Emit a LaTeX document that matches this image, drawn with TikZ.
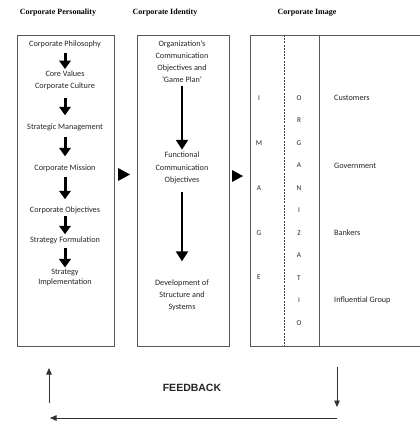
\documentclass[tikz,border=0pt]{standalone}
\usepackage{fontspec}
\setmainfont{Liberation Serif}
\newfontfamily\calib{Carlito}
\newfontfamily\arialf{Liberation Sans}
\usetikzlibrary{arrows.meta}
\begin{document}
\begin{tikzpicture}[x=1pt,y=-1pt,
  title/.style={font=\fontsize{8}{9}\selectfont\bfseries, inner sep=0pt},
  txt/.style={font=\calib\fontsize{8.2}{11.5}\selectfont, align=center, inner sep=1pt, text=black!85},
  lett/.style={font=\calib\fontsize{7.3}{8}\selectfont, inner sep=0pt, text=black!85},
  boxline/.style={draw=black!65, line width=0.9pt},
  bigarrow/.style={line width=3pt, -{Triangle[width=11.5pt,length=8.5pt]}},
  longarrow/.style={line width=2.4pt, -{Triangle[width=12pt,length=10pt]}},
  fbarrow/.style={draw=black!80, line width=0.8pt, -{Triangle[width=5.5pt,length=6.5pt]}}
]
\useasboundingbox (0,0) rectangle (420,423);
\fill[white] (0,0) rectangle (420,423);

% titles
\node[title] (t1) at (58,13) {Corporate Personality};
\node[title] (t2) at (165,13) {Corporate Identity};
\node[title] (t3) at (307,13) {Corporate Image};

% boxes
\node[boxline, anchor=north west, minimum width=97pt, minimum height=311pt, inner sep=0pt] (box1) at (17,35) {};
\node[boxline, anchor=north west, minimum width=92pt, minimum height=311pt, inner sep=0pt] (box2) at (137,35) {};
\coordinate (b3tl) at (250,35);
\coordinate (b3bl) at (250,346);
\coordinate (b3tr) at (420,35);
\coordinate (b3br) at (420,346);
\coordinate (dtop) at (284,35);
\coordinate (dbot) at (284,346);
\coordinate (stop) at (319,35);
\coordinate (sbot) at (319,346);
\draw[boxline] (b3tr) -- (b3tl) -- (b3bl) -- (b3br);
\draw[boxline] (stop) -- (sbot);
\draw[draw=black!75, line width=0.7pt, dash pattern=on 2pt off 1.2pt] (dtop) -- (dbot);

% box 1 contents
\node[txt] (p1) at (65,44) {Corporate Philosophy};
\node[txt] (p2) at (65,80.5) {Core Values\\Corporate Culture};
\node[txt] (p3) at (65,127) {Strategic Management};
\node[txt] (p4) at (65,168) {Corporate Mission};
\node[txt] (p5) at (65,210) {Corporate Objectives};
\node[txt] (p6) at (65,240) {Strategy Formulation};
\node[txt, font=\calib\fontsize{8.2}{10}\selectfont] (p7) at (65,277) {Strategy\\Implementation};
\draw[bigarrow, shorten <=4pt, shorten >=1pt] (p1.south) -- (p2.north);
\draw[bigarrow, shorten <=7pt, shorten >=7pt] (p2.south) -- (p3.north);
\draw[bigarrow, shorten <=5pt, shorten >=7pt] (p3.south) -- (p4.north);
\draw[bigarrow, shorten <=4pt, shorten >=6pt] (p4.south) -- (p5.north);
\draw[bigarrow, shorten <=1pt, shorten >=1pt] (p5.south) -- (p6.north);
\draw[bigarrow, shorten <=3pt, shorten >=0pt] (p6.south) -- (p7.north);

% box 2 contents
\node[txt, font=\calib\fontsize{8.2}{12}\selectfont] (i1) at (182,61.5) {Organization’s\\Communication\\Objectives and\\‘Game Plan’};
\node[txt, font=\calib\fontsize{8.2}{12.5}\selectfont] (i2) at (182,168) {Functional\\Communication\\Objectives};
\node[txt, font=\calib\fontsize{8.2}{12}\selectfont] (i3) at (182,295) {Development of\\Structure and\\Systems};
\draw[longarrow, shorten <=2pt, shorten >=1pt] (i1.south) -- (i2.north);
\draw[longarrow, shorten <=7pt, shorten >=17pt] (i2.south) -- (i3.north);

% triangles between boxes
\fill[black] (118,168) -- (118,181) -- (130,174.5) -- cycle;
\fill[black] (232,170) -- (232,182) -- (243,176) -- cycle;

% IMAGE column
\foreach \ch/\yy [count=\k] in {I/98, M/143, A/188, G/233, E/277}
  \node[lett] (im\k) at (259,\yy) {\ch};
% ORGANIZATION column
\foreach \ch [count=\k] in {O,R,G,A,N,I,Z,A,T,I,O}
  \node[lett] (or\k) at (299,{98+22.5*(\k-1)}) {\ch};

% publics
\node[txt, anchor=west] (c1) at (333,98) {Customers};
\node[txt, anchor=west] (c2) at (333,166) {Government};
\node[txt, anchor=west] (c3) at (333,233) {Bankers};
\node[txt, anchor=west] (c4) at (333,300) {Influential Group};

% feedback
\node[font=\arialf\bfseries\fontsize{10.5}{11}\selectfont, text=black!85, inner sep=0pt] (fb) at (192,388) {FEEDBACK};
\coordinate (fu1) at (49,403);
\coordinate (fu2) at (49,368);
\coordinate (fd1) at (337,367);
\coordinate (fd2) at (337,407);
\coordinate (fh1) at (337,418);
\coordinate (fh2) at (50,418);
\draw[fbarrow] (fu1) -- (fu2);
\draw[fbarrow] (fd1) -- (fd2);
\draw[fbarrow] (fh1) -- (fh2);
\end{tikzpicture}
\end{document}
